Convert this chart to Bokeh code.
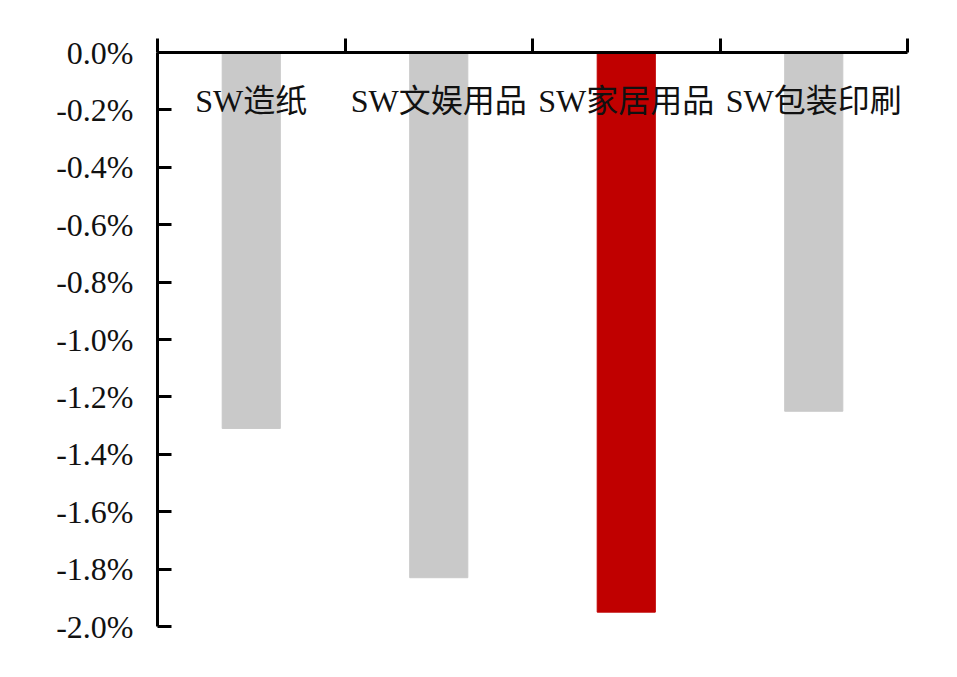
from bokeh.plotting import figure
from bokeh.models import ColumnDataSource, FixedTicker, Range1d
from bokeh.core.properties import value
from bokeh.embed import file_html
from bokeh.resources import INLINE

categories = ["SW造纸", "SW文娱用品", "SW家居用品", "SW包装印刷"]
values = [-1.31, -1.83, -1.95, -1.25]
colors = ["#C9C9C9", "#C9C9C9", "#C00000", "#C9C9C9"]
y_ticks = [0.0, -0.2, -0.4, -0.6, -0.8, -1.0, -1.2, -1.4, -1.6, -1.8, -2.0]
y_tick_labels = ["0.0%", "-0.2%", "-0.4%", "-0.6%", "-0.8%", "-1.0%",
                 "-1.2%", "-1.4%", "-1.6%", "-1.8%", "-2.0%"]
label_y = -0.17

xs = [i + 0.5 for i in range(len(categories))]
src = ColumnDataSource(dict(x=xs, top=values, color=colors, cat=categories,
                            ly=[label_y] * len(categories)))

W, H = 950, 670
p = figure(width=W, height=H, output_backend="svg", toolbar_location=None,
           x_range=Range1d(0, len(categories)), y_range=Range1d(-2.0, 0.0),
           x_axis_location="above", min_border_left=157, min_border_right=W - 907,
           min_border_top=52, min_border_bottom=H - 626)
p.outline_line_color = None
p.xgrid.visible = False
p.ygrid.visible = False
p.background_fill_color = "white"
p.border_fill_color = "white"

p.vbar(x="x", top="top", bottom=0, width=0.31, color="color", source=src)

p.text(x="x", y="ly", text="cat", source=src, text_align="center",
       text_baseline="middle", text_font_size="32px",
       text_font=value("Liberation Serif, Noto Sans CJK SC"), text_color="#111111")

xa = p.xaxis[0]
xa.ticker = FixedTicker(ticks=list(range(len(categories) + 1)))
xa.major_label_overrides = {i: "" for i in range(len(categories) + 1)}
xa.major_tick_out = 14
xa.major_tick_in = 0
xa.minor_tick_out = 0
xa.minor_tick_in = 0
xa.axis_line_width = 3
xa.major_tick_line_width = 3
xa.axis_line_color = "black"
xa.major_tick_line_color = "black"

ya = p.yaxis[0]
ya.ticker = FixedTicker(ticks=y_ticks)
ya.major_label_overrides = {t: l for t, l in zip(y_ticks, y_tick_labels)}
ya.major_tick_in = 14
ya.major_tick_out = 0
ya.minor_tick_in = 0
ya.minor_tick_out = 0
ya.axis_line_width = 3
ya.major_tick_line_width = 3
ya.axis_line_color = "black"
ya.major_tick_line_color = "black"
ya.major_label_standoff = 24
ya.major_label_text_font = "Liberation Serif"
ya.major_label_text_font_size = "32px"
ya.major_label_text_color = "#111111"

open("out.html", "w").write(file_html(p, INLINE))
